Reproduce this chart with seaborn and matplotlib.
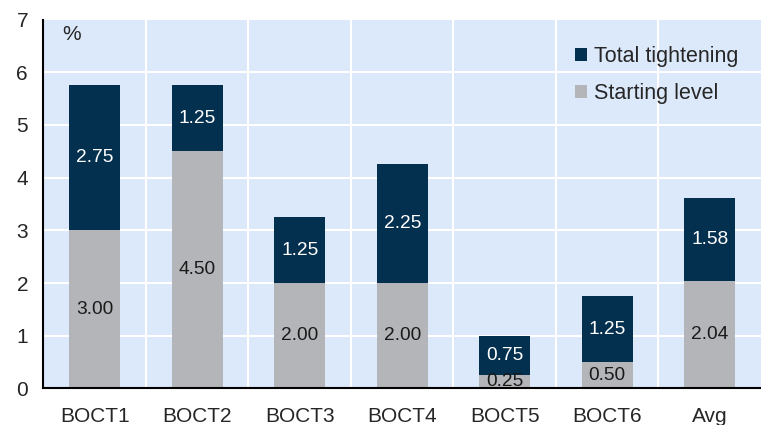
import numpy as np
import matplotlib.pyplot as plt
import seaborn as sns
import pandas as pd

categories = ['BOCT1', 'BOCT2', 'BOCT3', 'BOCT4', 'BOCT5', 'BOCT6', 'Avg']
starting_level = [3.00, 4.50, 2.00, 2.00, 0.25, 0.50, 2.04]
total_tightening = [2.75, 1.25, 1.25, 2.25, 0.75, 1.25, 1.58]

df = pd.DataFrame({'bank': categories, 'start': starting_level, 'tight': total_tightening})
df['top'] = df['start'] + df['tight']

sns.set_style('white')
plt.rcParams['font.family'] = ['Liberation Sans', 'DejaVu Sans']

navy = '#04304f'
grey = '#b4b5b8'

fig = plt.figure(figsize=(7.61, 4.25), dpi=100)
ax = fig.add_axes([0.057, 0.086, 0.943, 0.868])
ax.set_facecolor('#dce9fa')

# full stacked height in navy, starting level drawn over it in grey
sns.barplot(data=df, x='bank', y='top', color=navy, width=0.5, saturation=1, ax=ax,
            label='Total tightening', linewidth=0, edgecolor='none')
sns.barplot(data=df, x='bank', y='start', color=grey, width=0.5, saturation=1, ax=ax,
            label='Starting level', linewidth=0, edgecolor='none')

# value labels in the middle of each segment
for i, row in df.iterrows():
    ax.text(i, row['start'] / 2, f"{row['start']:.2f}", ha='center', va='center', fontsize=13.8, color='#1a1a1a')
    ax.text(i, row['start'] + row['tight'] / 2, f"{row['tight']:.2f}", ha='center', va='center', fontsize=13.8, color='white')

ax.set_ylim(0, 7)
ax.set_xlim(-0.5, len(categories) - 0.5)
ax.set_yticks(range(0, 8))

# white grid: horizontal at integers, vertical at category boundaries
for y in range(1, 7):
    ax.axhline(y, color='white', lw=1.5, zorder=0.5)
for b in np.arange(0.5, len(categories) - 0.5, 1):
    ax.axvline(b, color='white', lw=1.5, zorder=0.5)
ax.set_axisbelow(True)

ax.set_xticks(np.arange(-0.5, len(categories) - 0.5, 1), minor=False)
ax.set_xticklabels([])
ax.set_xticks(range(len(categories)), minor=True)
ax.set_xticklabels(categories, minor=True)
ax.tick_params(axis='x', which='major', length=6, width=1.5, direction='out', color='black')
ax.tick_params(axis='x', which='minor', length=0, labelsize=15, pad=13)
ax.tick_params(axis='y', length=6, width=1.5, direction='out', color='black', labelsize=15, pad=5)
ax.set_xlabel('')
ax.set_ylabel('')

for s in ['top', 'right']:
    ax.spines[s].set_visible(False)
for s in ['left', 'bottom']:
    ax.spines[s].set_color('black')
    ax.spines[s].set_linewidth(1.5)

ax.text(0.026, 0.985, '%', transform=ax.transAxes, fontsize=15, va='top', ha='left')

handles, labels = ax.get_legend_handles_labels()
ax.legend(handles, labels, loc='upper right', bbox_to_anchor=(0.995, 0.98), frameon=False,
          fontsize=15.5, handlelength=0.55, handleheight=0.55, handletextpad=0.3, labelspacing=0.75)

plt.savefig('out.png', dpi=100)
